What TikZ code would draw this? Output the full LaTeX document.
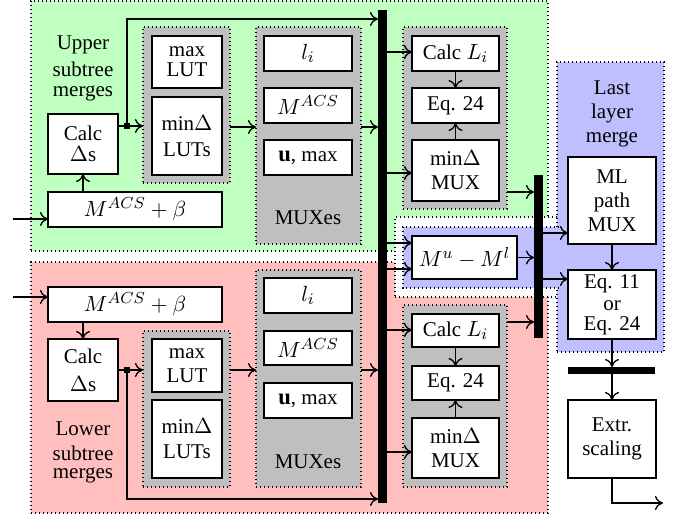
\documentclass[tikz,border=0pt]{standalone}
\usepackage{fontspec}
\setmainfont{Liberation Serif}
\usetikzlibrary{arrows.meta}
\definecolor{grnR}{RGB}{191,255,191}
\definecolor{redR}{RGB}{255,191,191}
\definecolor{bluR}{RGB}{191,191,255}
\definecolor{grayG}{RGB}{191,191,191}
\newcommand{\mybox}[7]{%
  \pgfmathsetmacro{\bxW}{(#5-#3)*0.5}%
  \pgfmathsetmacro{\bxH}{(#6-#4)*0.5}%
  \node[#1, minimum width=\bxW pt, minimum height=\bxH pt] (#2) at ({(#3+#5)/2},{(#4+#6)/2}) {#7};%
}
\newcommand{\mth}[1]{{\fontsize{11.3}{12}\selectfont$#1$}}
\begin{document}
\begin{tikzpicture}[x=0.5pt,y=-0.5pt,
  every node/.style={font=\fontsize{10.5}{12}\selectfont},
  region/.style={draw=black, line width=0.55pt, dash pattern=on 0.55pt off 1.45pt, inner sep=0pt, outer sep=0pt},
  grp/.style={region, fill=grayG},
  box/.style={draw=black, fill=white, line width=0.65pt, inner sep=0pt, outer sep=0pt, align=center},
  busbar/.style={fill=black, inner sep=0pt, outer sep=0pt},
  lbl/.style={align=center, inner sep=0pt},
  arr/.style={line width=0.65pt, -{To[length=4pt,width=7pt]}},
  ln/.style={line width=0.65pt},
  junc/.style={fill=black, minimum size=3pt, inner sep=0pt, outer sep=0pt},
]
\useasboundingbox (0,0) rectangle (680,519);
% regions
\mybox{region,fill=grnR}{rgU}{31}{1}{548}{251}{}
\mybox{region,fill=redR}{rgL}{31}{262}{548}{513}{}
\mybox{region,fill=white}{rgW}{395}{217}{560}{297}{}
\mybox{region,fill=bluR}{rgB}{557}{62}{664}{352}{}
\mybox{fill=bluR,inner sep=0pt,outer sep=0pt}{rgS}{403}{227}{559}{288}{}
\draw[region] (rgS.north east) -- (rgS.north west) -- (rgS.south west) -- (rgS.south east);
% groups
\mybox{grp}{lutgU}{143}{27}{230}{183}{}
\mybox{grp}{mgU}{256}{27}{361}{244}{}
\mybox{grp}{lutgL}{143}{331}{230}{487}{}
\mybox{grp}{mgL}{256}{270}{361}{487}{}
\mybox{grp}{grpRU}{403}{27}{507}{209}{}
\mybox{grp}{grpRL}{403}{305}{507}{487}{}
% upper
\mybox{box}{calcU}{48}{114}{118}{174}{Calc\\[-1.5pt]$\Delta$s}
\mybox{box}{mbU}{48}{192}{222}{227}{\mth{M^{ACS}+\beta}}
\mybox{box}{maxU}{152}{36}{222}{88}{max\\[-2pt]LUT}
\mybox{box}{minU}{152}{97}{222}{175}{min$\Delta$\\[1pt]LUTs}
\mybox{box}{liU}{264}{36}{352}{71}{\mth{l_i}}
\mybox{box}{macsU}{264}{88}{352}{123}{\mth{M^{ACS}}}
\mybox{box}{umaxU}{264}{140}{352}{175}{\mth{\mathbf{u}}, max}
\node[lbl] (muxlU) at (308,218) {MUXes};
\node[lbl] (labU) at (83,68.5) {Upper\\[1.5pt]subtree\\[-2pt]merges};
% lower
\mybox{box}{mbL}{48}{287}{222}{322}{\mth{M^{ACS}+\beta}}
\mybox{box}{calcL}{48}{339}{118}{401}{Calc\\[2pt]$\Delta$s}
\mybox{box}{maxL}{152}{339}{222}{392}{max\\LUT}
\mybox{box}{minL}{152}{400}{222}{478}{min$\Delta$\\[0.5pt]LUTs}
\mybox{box}{liL}{264}{278}{352}{313}{\mth{l_i}}
\mybox{box}{macsL}{264}{331}{352}{365}{\mth{M^{ACS}}}
\mybox{box}{umaxL}{264}{383}{352}{418}{\mth{\mathbf{u}}, max}
\node[lbl] (muxlL) at (308,462) {MUXes};
\node[lbl] (labL) at (83,452) {Lower\\[0.5pt]subtree\\[-3pt]merges};
% right
\mybox{box}{cliU}{412}{36}{499}{71}{Calc \mth{L_i}}
\mybox{box}{eqU}{412}{88}{499}{123}{Eq. 24}
\mybox{box}{mdU}{412}{140}{499}{201}{min$\Delta$\\MUX}
\mybox{box}{mum}{412}{236}{517}{279}{\mth{M^u-M^l}}
\mybox{box}{cliL}{412}{314}{499}{347}{Calc \mth{L_i}}
\mybox{box}{eqL}{412}{366}{499}{400}{Eq. 24}
\mybox{box}{mdL}{412}{418}{499}{478}{min$\Delta$\\MUX}
% last layer
\node[lbl] (labB) at (612,114) {Last\\layer\\merge};
\mybox{box}{mlmux}{568}{157}{656}{244}{ML\\path\\MUX}
\mybox{box}{eq11}{568}{270}{656}{339}{Eq. 11\\[-1pt]or\\[-2pt]Eq. 24}
\mybox{busbar}{bar}{568}{367}{655}{374}{}
\mybox{box}{extr}{568}{400}{656}{478}{Extr.\\scaling}
% buses
\mybox{busbar}{bus}{378}{10}{387}{503}{}
\mybox{busbar}{bustwo}{534}{175}{543}{338}{}
% connectors
\coordinate (inU) at (13,219);
\coordinate (inL) at (13,297);
\coordinate (outE) at (663,503);
\node[junc] (jU) at (127,126) {};
\node[junc] (jL) at (127,370) {};
\draw[arr] (inU) -- (mbU.west |- inU);
\draw[arr] (mbU.north -| calcU.south) -- (calcU.south);
\draw[ln] (calcU.east |- jU) -- (jU);
\draw[arr] (jU) -- (lutgU.west |- jU);
\draw[arr] (jU) -- (jU |- 0,19) -- (bus.west |- 0,19);
\draw[arr] (lutgU.east |- 0,127) -- (mgU.west |- 0,127);
\draw[arr] (mgU.east |- 0,127) -- (bus.west |- 0,127);
\draw[arr] (inL) -- (mbL.west |- inL);
\draw[arr] (mbL.south -| calcL.north) -- (calcL.north);
\draw[ln] (calcL.east |- jL) -- (jL);
\draw[arr] (jL) -- (lutgL.west |- jL);
\draw[arr] (jL) -- (jL |- 0,499) -- (bus.west |- 0,499);
\draw[arr] (lutgL.east |- jL) -- (mgL.west |- jL);
\draw[arr] (mgL.east |- jL) -- (bus.west |- jL);
\draw[arr] (bus.east |- 0,52) -- (cliU.west |- 0,52);
\draw[arr] (bus.east |- 0,173) -- (mdU.west |- 0,173);
\draw[arr] (cliU.south) -- (eqU.north);
\draw[arr] (mdU.north) -- (eqU.south);
\draw[arr] (grpRU.east |- 0,192) -- (bustwo.west |- 0,192);
\draw[arr] (bus.east |- 0,243) -- (mum.west |- 0,243);
\draw[arr] (bus.east |- 0,269) -- (mum.west |- 0,269);
\draw[arr] (mum.east) -- (bustwo.west |- mum.east);
\draw[arr] (bustwo.east |- 0,233) -- (mlmux.west |- 0,233);
\draw[arr] (bustwo.east |- 0,279) -- (eq11.west |- 0,279);
\draw[arr] (bus.east |- 0,330) -- (cliL.west |- 0,330);
\draw[arr] (bus.east |- 0,452) -- (mdL.west |- 0,452);
\draw[arr] (cliL.south) -- (eqL.north);
\draw[arr] (mdL.north) -- (eqL.south);
\draw[arr] (grpRL.east |- 0,322) -- (bustwo.west |- 0,322);
\draw[arr] (mlmux.south) -- (eq11.north);
\draw[arr] (eq11.south) -- (eq11.south |- bar.north);
\draw[arr] (bar.south -| extr.north) -- (extr.north);
\draw[arr] (extr.south) -- (extr.south |- outE) -- (outE);
\end{tikzpicture}
\end{document}
